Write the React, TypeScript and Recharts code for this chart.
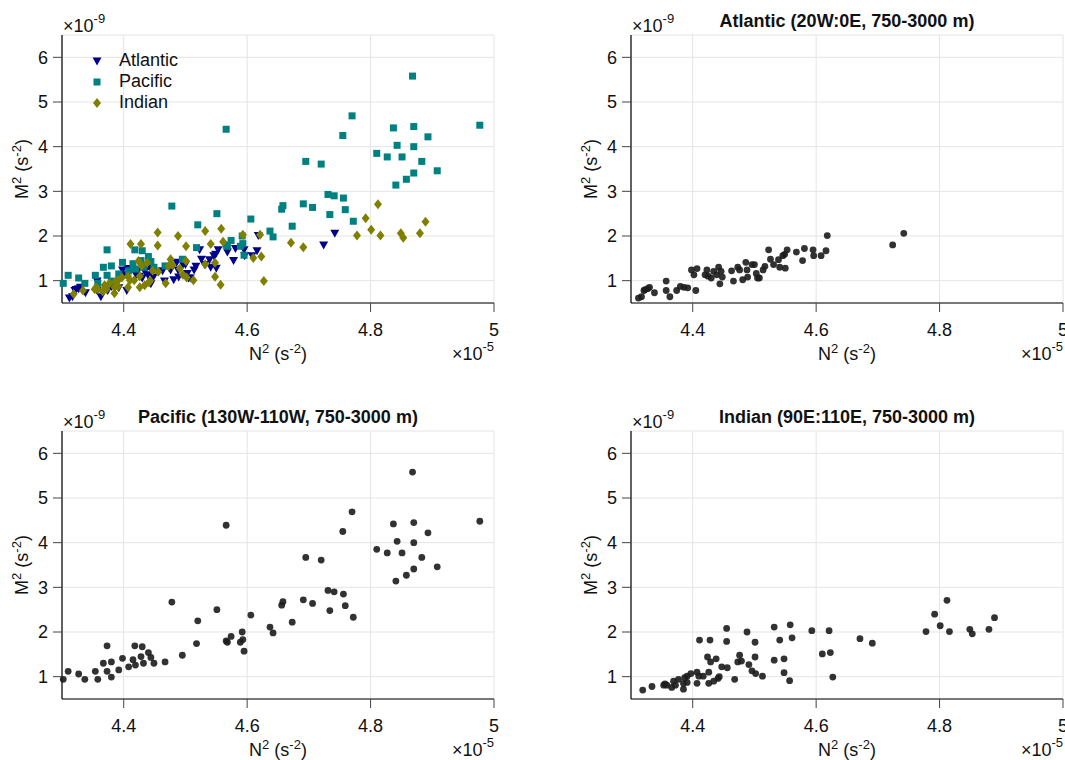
import React from 'react';
import {
  ScatterChart, Scatter, XAxis, YAxis, CartesianGrid, Legend,
} from 'recharts';

// N² in 1e-5 s^-2, M² in 1e-9 s^-2
const atlN2 = [4.312, 4.317, 4.321, 4.323, 4.327, 4.330, 4.338, 4.357, 4.357, 4.363, 4.374, 4.380, 4.386, 4.392, 4.398, 4.402, 4.405, 4.407, 4.420, 4.423, 4.425, 4.430, 4.434, 4.439, 4.442, 4.444, 4.446, 4.448, 4.463, 4.466, 4.473, 4.476, 4.481, 4.486, 4.488, 4.489, 4.496, 4.500, 4.503, 4.505, 4.508, 4.514, 4.517, 4.523, 4.526, 4.531, 4.539, 4.541, 4.546, 4.549, 4.550, 4.553, 4.568, 4.578, 4.581, 4.595, 4.596, 4.608, 4.616, 4.618, 4.724, 4.742];
const atlM2 = [0.61, 0.64, 0.78, 0.80, 0.82, 0.85, 0.73, 0.99, 0.78, 0.64, 0.78, 0.87, 0.85, 0.84, 1.24, 1.13, 0.78, 1.27, 1.13, 1.24, 1.10, 1.06, 1.21, 1.13, 1.30, 0.93, 1.21, 1.08, 1.22, 0.99, 1.30, 1.24, 1.02, 1.41, 1.24, 1.08, 1.36, 1.36, 1.16, 1.06, 1.06, 1.24, 1.32, 1.69, 1.48, 1.36, 1.47, 1.30, 1.56, 1.59, 1.28, 1.69, 1.64, 1.45, 1.72, 1.69, 1.56, 1.56, 1.67, 2.01, 1.80, 2.06];

const pacN2 = [4.302, 4.310, 4.327, 4.337, 4.354, 4.358, 4.367, 4.373, 4.373, 4.380, 4.380, 4.392, 4.398, 4.408, 4.415, 4.418, 4.419, 4.428, 4.430, 4.432, 4.440, 4.444, 4.449, 4.467, 4.478, 4.495, 4.518, 4.520, 4.551, 4.566, 4.566, 4.568, 4.574, 4.589, 4.592, 4.593, 4.595, 4.606, 4.637, 4.642, 4.656, 4.658, 4.673, 4.691, 4.695, 4.706, 4.720, 4.731, 4.734, 4.741, 4.755, 4.756, 4.759, 4.770, 4.772, 4.810, 4.827, 4.837, 4.841, 4.843, 4.851, 4.858, 4.868, 4.870, 4.870, 4.870, 4.883, 4.893, 4.908, 4.977];
const pacM2 = [0.94, 1.12, 1.06, 0.94, 1.12, 0.94, 1.30, 1.69, 1.12, 1.33, 0.99, 1.15, 1.41, 1.22, 1.38, 1.69, 1.26, 1.45, 1.67, 1.30, 1.54, 1.43, 1.30, 1.33, 2.67, 1.48, 1.74, 2.25, 2.50, 4.39, 1.80, 1.77, 1.90, 1.77, 2.00, 1.83, 1.57, 2.38, 2.11, 1.98, 2.60, 2.68, 2.22, 2.72, 3.67, 2.64, 3.61, 2.93, 2.48, 2.90, 4.25, 2.85, 2.59, 4.69, 2.33, 3.85, 3.77, 4.42, 3.14, 4.03, 3.77, 3.27, 5.58, 4.45, 4.00, 3.41, 3.67, 4.22, 3.46, 4.48];

const indN2 = [4.319, 4.334, 4.353, 4.355, 4.358, 4.366, 4.369, 4.372, 4.377, 4.385, 4.385, 4.387, 4.391, 4.391, 4.397, 4.407, 4.407, 4.410, 4.411, 4.417, 4.424, 4.426, 4.426, 4.428, 4.429, 4.434, 4.438, 4.441, 4.443, 4.447, 4.455, 4.455, 4.456, 4.468, 4.473, 4.476, 4.479, 4.488, 4.491, 4.496, 4.501, 4.501, 4.502, 4.513, 4.532, 4.532, 4.541, 4.548, 4.548, 4.557, 4.558, 4.561, 4.593, 4.610, 4.621, 4.623, 4.627, 4.671, 4.691, 4.778, 4.792, 4.801, 4.812, 4.816, 4.849, 4.853, 4.880, 4.889];
const indM2 = [0.70, 0.78, 0.81, 0.84, 0.81, 0.76, 0.90, 0.81, 0.94, 0.85, 0.72, 0.98, 0.87, 1.01, 1.07, 1.10, 0.85, 1.01, 1.82, 1.01, 1.44, 1.10, 0.85, 1.82, 1.33, 0.90, 1.40, 0.96, 1.00, 1.22, 2.08, 1.79, 1.20, 0.94, 1.33, 1.48, 1.35, 2.00, 1.27, 1.13, 1.77, 1.44, 1.07, 1.01, 2.11, 1.37, 1.82, 1.40, 1.09, 0.91, 2.16, 1.87, 2.03, 1.51, 2.03, 1.54, 0.99, 1.85, 1.75, 2.01, 2.40, 2.14, 2.71, 2.01, 2.06, 1.96, 2.06, 2.32];

const xTicks = [4.4, 4.6, 4.8, 5];
const yTicks = [1, 2, 3, 4, 5, 6];
const titles = ['', 'Atlantic (20W:0E, 750-3000 m)', 'Pacific (130W-110W, 750-3000 m)', 'Indian (90E:110E, 750-3000 m)'];

const NAVY = '#00008B';
const TEAL = '#008080';
const OLIVE = '#808000';
const DOT = '#1c1c1c';
const FONT = '"Liberation Sans", Arial, Helvetica, sans-serif';

const zip = (xs: number[], ys: number[]) => xs.map((x, i) => ({ x, y: ys[i] }));
const atl = zip(atlN2, atlM2);
const pac = zip(pacN2, pacM2);
const ind = zip(indN2, indM2);

const TriDown = ({ cx, cy, fill }: any) => (
  <path d={`M${cx - 4.5},${cy - 3.5}L${cx + 4.5},${cy - 3.5}L${cx},${cy + 4.5}Z`} fill={fill} />
);
const Square = ({ cx, cy, fill }: any) => (
  <rect x={cx - 3.5} y={cy - 3.5} width={7} height={7} fill={fill} />
);
const Diamond = ({ cx, cy, fill }: any) => (
  <path d={`M${cx},${cy - 5}L${cx + 4},${cy}L${cx},${cy + 5}L${cx - 4},${cy}Z`} fill={fill} />
);
const Dot = ({ cx, cy }: any) => (
  <circle cx={cx} cy={cy} r={3.4} fill={DOT} fillOpacity={0.9} />
);

const LEGEND = [
  { name: 'Atlantic', color: NAVY, Shape: TriDown },
  { name: 'Pacific', color: TEAL, Shape: Square },
  { name: 'Indian', color: OLIVE, Shape: Diamond },
];

const renderLegend = () => (
  <div style={{ fontFamily: FONT, fontSize: 18, color: '#111' }}>
    {LEGEND.map(({ name, color, Shape }) => (
      <div key={name} style={{ display: 'flex', alignItems: 'center', height: 21 }}>
        <svg width={14} height={14} style={{ marginRight: 15 }}>
          <Shape cx={7} cy={7} fill={color} />
        </svg>
        <span style={{ lineHeight: '21px' }}>{name}</span>
      </div>
    ))}
  </div>
);

const H = 364;

function Panel({ left, top, width, children, legend }: any) {
  return (
    <div style={{ position: 'absolute', left, top }}>
      <ScatterChart width={width} height={H} margin={{ top: 35, right: width - 494, left: 12, bottom: 21 }}>
        <CartesianGrid stroke="#e4e4e4" />
        <XAxis
          type="number"
          dataKey="x"
          domain={[4.3, 5]}
          ticks={xTicks}
          interval={0}
          height={40}
          tickFormatter={(v) => String(v)}
          tick={{ fontSize: 18, fill: '#111' }}
          tickSize={9}
          tickMargin={11}
          axisLine={{ stroke: '#000', strokeWidth: 1.2 }}
          tickLine={{ stroke: '#444' }}
        />
        <YAxis
          type="number"
          dataKey="y"
          domain={[0.5, 6.5]}
          ticks={yTicks}
          interval={0}
          width={50}
          tick={{ fontSize: 18, fill: '#111' }}
          tickSize={9}
          tickMargin={5}
          axisLine={{ stroke: '#000', strokeWidth: 1.2 }}
          tickLine={{ stroke: '#444' }}
        />
        {legend && (
          <Legend
            layout="vertical"
            align="center"
            verticalAlign="middle"
            wrapperStyle={{ left: 90, top: 50, width: 'auto' }}
            content={renderLegend}
          />
        )}
        {children}
      </ScatterChart>
    </div>
  );
}

const PANELS = [
  { ox: 0, oy: 0 },
  { ox: 569, oy: 0 },
  { ox: 0, oy: 396 },
  { ox: 569, oy: 396 },
];

export default function App() {
  return (
    <div style={{ position: 'absolute', left: 0, top: 0, width: 1065, height: 760, overflow: 'hidden', background: '#fff', fontFamily: FONT }}>
      <Panel left={0} top={0} width={530} legend>
        <Scatter name="Atlantic" data={atl} fill={NAVY} shape={TriDown} isAnimationActive={false} />
        <Scatter name="Pacific" data={pac} fill={TEAL} shape={Square} isAnimationActive={false} />
        <Scatter name="Indian" data={ind} fill={OLIVE} shape={Diamond} isAnimationActive={false} />
      </Panel>
      <Panel left={569} top={0} width={496}>
        <Scatter data={atl} shape={Dot} isAnimationActive={false} />
      </Panel>
      <Panel left={0} top={396} width={530}>
        <Scatter data={pac} shape={Dot} isAnimationActive={false} />
      </Panel>
      <Panel left={569} top={396} width={496}>
        <Scatter data={ind} shape={Dot} isAnimationActive={false} />
      </Panel>

      <svg width={1065} height={760} style={{ position: 'absolute', left: 0, top: 0, pointerEvents: 'none' }}
        fontFamily={FONT} fill="#111">
        {PANELS.map(({ ox, oy }, i) => (
          <g key={i}>
            <text x={ox + 63} y={oy + 32} fontSize={18}>
              ×10<tspan dy={-9} fontSize={13}>-9</tspan>
            </text>
            {titles[i] && (
              <text x={ox + 278} y={oy + 27} fontSize={18} fontWeight="bold" textAnchor="middle">
                {titles[i]}
              </text>
            )}
            <text x={ox + 278} y={oy + 360} fontSize={18} textAnchor="middle">
              N<tspan dy={-7} fontSize={13}>2</tspan><tspan dy={7}> (s</tspan>
              <tspan dy={-7} fontSize={13}>-2</tspan><tspan dy={7}>)</tspan>
            </text>
            <text x={ox + 494} y={oy + 360} fontSize={18} textAnchor="end">
              ×10<tspan dy={-9} fontSize={13}>-5</tspan>
            </text>
            <text x={ox + 28} y={oy + 169} fontSize={18} textAnchor="middle"
              transform={`rotate(-90, ${ox + 28}, ${oy + 169})`}>
              M<tspan dy={-7} fontSize={13}>2</tspan><tspan dy={7}> (s</tspan>
              <tspan dy={-7} fontSize={13}>-2</tspan><tspan dy={7}>)</tspan>
            </text>
          </g>
        ))}
      </svg>
    </div>
  );
}
